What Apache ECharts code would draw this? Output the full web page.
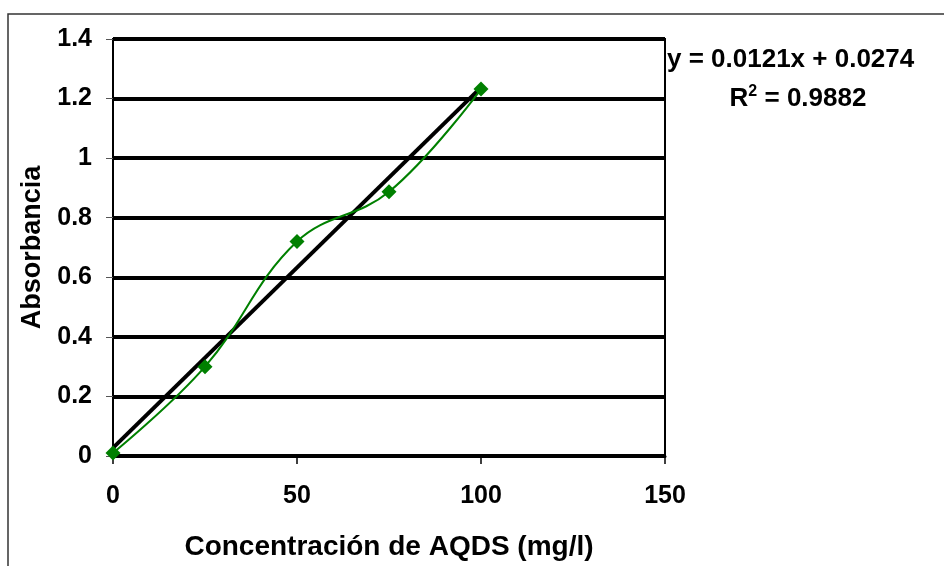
<!DOCTYPE html>
<html>
<head>
<meta charset="utf-8">
<script src="https://cdn.jsdelivr.net/npm/echarts@6/dist/echarts.min.js"></script>
<style>
  html, body { margin: 0; padding: 0; background: #fff; }
  #chart { width: 944px; height: 566px; }
</style>
</head>
<body>
<div id="chart"></div>
<script>
// datos de la curva de calibración
const concX = [0, 25, 50, 75, 100];
const absY = [0.01, 0.30, 0.72, 0.887, 1.232];
// línea de tendencia (y = 0.0121x + 0.0274)
const trendX = [0, 100];
const trendY = [0.0274, 1.2374];
const eqText = 'y = 0.0121x + 0.0274';
const r2Value = '0.9882';

const chart = echarts.init(document.getElementById('chart'));
const font = 'Liberation Sans, Arial, sans-serif';

const option = {
    animation: false,
    backgroundColor: '#fff',
    grid: {
        left: 113, right: 279, top: 39, bottom: 109,
        show: true, borderColor: '#000', borderWidth: 2
    },
    xAxis: {
        type: 'value',
        min: 0, max: 150, interval: 50,
        name: 'Concentración de AQDS (mg/l)',
        nameLocation: 'middle',
        nameGap: 77,
        nameTextStyle: { fontFamily: font, fontWeight: 'bold', fontSize: 28, color: '#000' },
        axisLine: { show: true, onZero: false, lineStyle: { color: '#000', width: 3 } },
        axisTick: { show: true, length: 8, lineStyle: { color: '#000', width: 1.5 } },
        axisLabel: { margin: 28, fontFamily: font, fontWeight: 'bold', fontSize: 25, color: '#000' },
        splitLine: { show: false }
    },
    yAxis: {
        type: 'value',
        min: 0, max: 1.4, interval: 0.2,
        name: 'Absorbancia',
        nameLocation: 'middle',
        nameGap: 65,
        nameTextStyle: { fontFamily: font, fontWeight: 'bold', fontSize: 27, color: '#000' },
        axisLine: { show: true, lineStyle: { color: '#000', width: 2 } },
        axisTick: { show: true, length: 7, lineStyle: { color: '#555', width: 1 } },
        axisLabel: {
            margin: 21, fontFamily: font, fontWeight: 'bold', fontSize: 25, color: '#000',
            formatter: v => String(Math.round(v * 10) / 10)
        },
        splitLine: { show: true, lineStyle: { color: '#000', width: 4 } }
    },
    series: [
        {
            type: 'line',
            data: trendX.map((x, i) => [x, trendY[i]]),
            showSymbol: false,
            symbol: 'none',
            lineStyle: { color: '#000', width: 4 },
            z: 3
        },
        {
            type: 'line',
            data: concX.map((x, i) => [x, absY[i]]),
            smooth: 0.4,
            symbol: 'diamond',
            symbolSize: 15,
            itemStyle: { color: '#008000' },
            lineStyle: { color: '#008000', width: 2 },
            z: 4
        }
    ],
    graphic: [
        {
            type: 'rect',
            shape: { x: 8, y: 14, width: 960, height: 600 },
            style: { fill: 'none', stroke: '#333', lineWidth: 1.5 },
            silent: true
        },
        {
            type: 'text',
            x: 667, y: 60,
            style: {
                text: eqText,
                font: 'bold 26px ' + font,
                fill: '#000',
                align: 'left',
                verticalAlign: 'middle'
            }
        },
        {
            type: 'text',
            x: 798, y: 98,
            style: {
                text: '{b|R}{s|2}{b| = ' + r2Value + '}',
                align: 'center',
                verticalAlign: 'middle',
                rich: {
                    b: { font: 'bold 26px ' + font, fill: '#000', verticalAlign: 'bottom' },
                    s: { font: 'bold 16px ' + font, fill: '#000', verticalAlign: 'top', padding: [0, 0, 12, 0] }
                }
            }
        }
    ]
};

chart.setOption(option);
</script>
</body>
</html>
